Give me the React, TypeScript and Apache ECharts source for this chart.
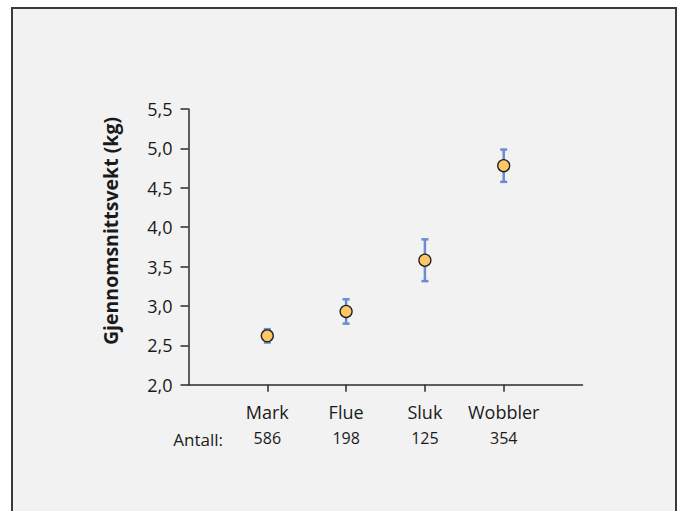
import React, { useEffect, useRef } from "react";
import * as echarts from "echarts";

// Fishing method, mean weight (kg), its error margin and sample size
const categories = ["Mark", "Flue", "Sluk", "Wobbler"];
const meanWeight = [2.62, 2.93, 3.58, 4.78];
const errorMargin = [0.085, 0.155, 0.265, 0.205];
const counts = [586, 198, 125, 354];
const yTicks = [2.0, 2.5, 3.0, 3.5, 4.0, 4.5, 5.0, 5.5];

const FONT = "'Open Sans', 'Noto Sans', sans-serif";
const TEXT = "#1a1a1a";
const AXIS = "#2b2b2b";
const BAR = "#6a8bcf";

export default function App() {
  const ref = useRef<HTMLDivElement>(null);

  useEffect(() => {
    if (!ref.current) return;
    const chart = echarts.init(ref.current, null, { renderer: "svg" });

    const positions = categories.map((_, i) => i + 1);
    const points = positions.map((x, i) => [x, meanWeight[i]]);
    const bars = positions.map((x, i) => [
      x,
      meanWeight[i] - errorMargin[i],
      meanWeight[i] + errorMargin[i],
    ]);

    chart.setOption({
      animation: false,
      backgroundColor: "#ffffff",
      textStyle: { fontFamily: FONT },
      grid: { left: 188.5, right: 97.5, top: 109, bottom: 126.3 },
      graphic: [
        {
          type: "rect",
          z: -10,
          silent: true,
          shape: { x: 12, y: 8, width: 664, height: 540 },
          style: { fill: "#f2f2f2", stroke: "#3a3a3a", lineWidth: 2 },
        },
        {
          type: "text",
          x: 110.5,
          y: 231,
          rotation: Math.PI / 2,
          style: {
            text: "Gjennomsnittsvekt (kg)",
            font: `bold 19.5px ${FONT}`,
            fill: TEXT,
            align: "center",
            verticalAlign: "middle",
          },
        },
        {
          type: "text",
          x: 223,
          y: 439,
          style: {
            text: "Antall:",
            font: `17px ${FONT}`,
            fill: TEXT,
            align: "right",
            verticalAlign: "middle",
          },
        },
      ],
      xAxis: {
        type: "value",
        min: 0,
        max: categories.length + 1,
        interval: 1,
        splitLine: { show: false },
        axisLine: { show: true, lineStyle: { color: AXIS, width: 1.5 } },
        axisTick: {
          show: true,
          length: 7,
          customValues: positions,
          lineStyle: { color: AXIS, width: 1.5 },
        },
        axisLabel: {
          customValues: positions,
          margin: 16,
          formatter: (v: number) => {
            const i = Math.round(v) - 1;
            if (i < 0 || i >= categories.length) return "";
            return `{n|${categories[i]}}\n{c|${counts[i]}}`;
          },
          rich: {
            n: { fontFamily: FONT, fontSize: 18, color: TEXT, lineHeight: 22 },
            c: { fontFamily: FONT, fontSize: 16, color: TEXT, lineHeight: 30 },
          },
        },
      },
      yAxis: {
        type: "value",
        min: yTicks[0],
        max: yTicks[yTicks.length - 1],
        interval: 0.5,
        splitLine: { show: false },
        axisLine: { show: true, lineStyle: { color: AXIS, width: 1.5 } },
        axisTick: { show: true, length: 8, lineStyle: { color: AXIS, width: 1.5 } },
        axisLabel: {
          margin: 16,
          fontFamily: FONT,
          fontSize: 18,
          color: TEXT,
          formatter: (v: number) => v.toFixed(1).replace(".", ","),
        },
      },
      series: [
        {
          type: "custom",
          z: 2,
          data: bars,
          encode: { x: 0, y: [1, 2] },
          renderItem: (_params: any, api: any) => {
            const x = api.value(0);
            const lo = api.coord([x, api.value(1)]);
            const hi = api.coord([x, api.value(2)]);
            const w = 3.5;
            const style = { stroke: BAR, lineWidth: 2.5 };
            return {
              type: "group",
              children: [
                { type: "line", shape: { x1: hi[0], y1: hi[1], x2: lo[0], y2: lo[1] }, style },
                { type: "line", shape: { x1: hi[0] - w, y1: hi[1], x2: hi[0] + w, y2: hi[1] }, style },
                { type: "line", shape: { x1: lo[0] - w, y1: lo[1], x2: lo[0] + w, y2: lo[1] }, style },
              ],
            };
          },
        },
        {
          type: "scatter",
          z: 3,
          data: points,
          symbol: "circle",
          symbolSize: 12,
          itemStyle: { color: "#fcc866", borderColor: "#1f1f1f", borderWidth: 1.3, opacity: 1 },
        },
      ],
    });

    return () => chart.dispose();
  }, []);

  return (
    <div
      ref={ref}
      style={{ position: "absolute", left: 0, top: 0, width: 680, height: 511 }}
    />
  );
}
